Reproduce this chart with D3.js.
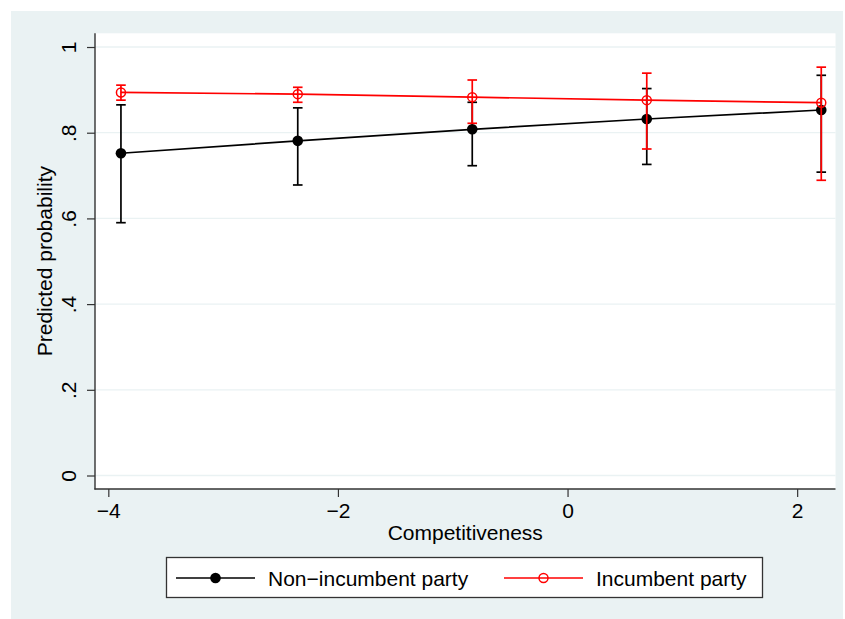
<!DOCTYPE html>
<html lang="en">
<head>
  <meta charset="UTF-8">
  <title>Predicted probability by competitiveness</title>
  <script src="https://cdn.jsdelivr.net/npm/d3@7"></script>
  <style>
    body { margin: 0; background: #ffffff; }
    text { font-family: "Liberation Sans", Arial, sans-serif; fill: #000; }
  </style>
</head>
<body>
  <script>

  // Data
  var xVals     = [-3.89, -2.35, -0.83, 0.69, 2.21];
  var nonInc    = [0.752, 0.781, 0.808, 0.832, 0.853];
  var nonIncLo  = [0.590, 0.678, 0.723, 0.726, 0.708];
  var nonIncHi  = [0.865, 0.858, 0.871, 0.903, 0.934];
  var inc       = [0.894, 0.890, 0.883, 0.876, 0.870];
  var incLo     = [0.876, 0.871, 0.822, 0.762, 0.689];
  var incHi     = [0.911, 0.906, 0.923, 0.939, 0.953];

  var xTicks = [-4, -2, 0, 2];
  var yTicks = [0, 0.2, 0.4, 0.6, 0.8, 1];
  var yTickLabels = ["0", ".2", ".4", ".6", ".8", "1"];
  var seriesNames = ["Non\u2212incumbent party", "Incumbent party"];

  //Width and height
  var w = 845;
  var h = 619;
  var fontSize = 21;

  // plot region
  var pLeft = 95, pRight = 835.5, pTop = 33.3, pBottom = 489;

  var svg = d3.select("body")
    .append("svg")
    .attr("width", w)
    .attr("height", h);

  // outer background (Stata s2color)
  svg.append("rect")
    .attr("x", 11).attr("y", 11)
    .attr("width", 832).attr("height", h - 11)
    .attr("fill", "#eaf2f3");

  svg.append("rect")
    .attr("x", pLeft).attr("y", pTop)
    .attr("width", pRight - pLeft).attr("height", pBottom - pTop)
    .attr("fill", "#ffffff");

  var xScale = d3.scaleLinear()
    .domain([-4.116, 2.334])
    .range([pLeft, pRight]);

  var yScale = d3.scaleLinear()
    .domain([-0.0315, 1.032])
    .range([pBottom, pTop]);

  // gridlines
  svg.append("g")
    .selectAll("line")
    .data(yTicks)
    .enter()
    .append("line")
    .attr("x1", pLeft)
    .attr("x2", pRight)
    .attr("y1", function(d) { return yScale(d); })
    .attr("y2", function(d) { return yScale(d); })
    .attr("stroke", "#eaf2f3")
    .attr("stroke-width", 1.3);

  // Y axis
  var yAxis = d3.axisLeft(yScale)
    .tickValues(yTicks)
    .tickSize(8)
    .tickFormat(function(d, i) { return yTickLabels[i]; });

  var gy = svg.append("g")
    .attr("transform", "translate(" + pLeft + ",0)")
    .call(yAxis);
  gy.select(".domain").remove();
  gy.selectAll(".tick line").attr("stroke", "#333").attr("stroke-width", 1.2);
  gy.selectAll(".tick text")
    .attr("transform", "rotate(-90)")
    .attr("x", 0)
    .attr("y", -19)
    .attr("dy", 0)
    .style("text-anchor", "middle")
    .style("font-size", fontSize + "px")
    .style("font-family", "Liberation Sans, Arial, sans-serif");

  // X axis
  var xAxis = d3.axisBottom(xScale)
    .tickValues(xTicks)
    .tickSize(8)
    .tickFormat(d3.format("d"));

  var gx = svg.append("g")
    .attr("transform", "translate(0," + pBottom + ")")
    .call(xAxis);
  gx.select(".domain").remove();
  gx.selectAll(".tick line").attr("stroke", "#333").attr("stroke-width", 1.2);
  gx.selectAll(".tick text")
    .attr("y", 28.7)
    .attr("dy", 0)
    .style("font-size", fontSize + "px")
    .style("font-family", "Liberation Sans, Arial, sans-serif");

  // axis lines
  svg.append("line")
    .attr("x1", pLeft).attr("x2", pLeft)
    .attr("y1", pTop).attr("y2", pBottom + 0.6)
    .attr("stroke", "#333").attr("stroke-width", 1.4);
  svg.append("line")
    .attr("x1", pLeft - 0.6).attr("x2", pRight)
    .attr("y1", pBottom).attr("y2", pBottom)
    .attr("stroke", "#333").attr("stroke-width", 1.4);

  // axis titles
  svg.append("text")
    .attr("x", (pLeft + pRight) / 2)
    .attr("y", 540)
    .style("text-anchor", "middle")
    .style("font-size", fontSize + "px")
    .text("Competitiveness");

  svg.append("text")
    .attr("transform", "translate(52," + ((pTop + pBottom) / 2) + ") rotate(-90)")
    .style("text-anchor", "middle")
    .style("font-size", fontSize + "px")
    .text("Predicted probability");

  // series
  function drawSeries(vals, lo, hi, color, hollow) {
    var g = svg.append("g");
    var idx = d3.range(xVals.length);
    var capW = 4.8;

    // error bars
    g.selectAll(".ci")
      .data(idx)
      .enter()
      .append("line")
      .attr("x1", function(i) { return xScale(xVals[i]); })
      .attr("x2", function(i) { return xScale(xVals[i]); })
      .attr("y1", function(i) { return yScale(lo[i]); })
      .attr("y2", function(i) { return yScale(hi[i]); })
      .attr("stroke", color)
      .attr("stroke-width", 1.7);

    [lo, hi].forEach(function(arr) {
      g.selectAll(null)
        .data(idx)
        .enter()
        .append("line")
        .attr("x1", function(i) { return xScale(xVals[i]) - capW; })
        .attr("x2", function(i) { return xScale(xVals[i]) + capW; })
        .attr("y1", function(i) { return yScale(arr[i]); })
        .attr("y2", function(i) { return yScale(arr[i]); })
        .attr("stroke", color)
        .attr("stroke-width", 1.7);
    });

    // connecting line
    var line = d3.line()
      .x(function(i) { return xScale(xVals[i]); })
      .y(function(i) { return yScale(vals[i]); });

    g.append("path")
      .datum(idx)
      .attr("d", line)
      .attr("fill", "none")
      .attr("stroke", color)
      .attr("stroke-width", 1.7);

    // markers
    g.selectAll("circle")
      .data(idx)
      .enter()
      .append("circle")
      .attr("cx", function(i) { return xScale(xVals[i]); })
      .attr("cy", function(i) { return yScale(vals[i]); })
      .attr("r", hollow ? 4.5 : 5.3)
      .attr("fill", hollow ? "none" : color)
      .attr("stroke", color)
      .attr("stroke-width", hollow ? 1.5 : 0);
  }

  drawSeries(nonInc, nonIncLo, nonIncHi, "#000000", false);
  drawSeries(inc, incLo, incHi, "#ff0000", true);

  // legend
  var legend = svg.append("g");
  legend.append("rect")
    .attr("x", 166.5).attr("y", 557.5)
    .attr("width", 596).attr("height", 40)
    .attr("fill", "#ffffff")
    .attr("stroke", "#333")
    .attr("stroke-width", 1.3);

  var legendItems = [
    { name: seriesNames[0], color: "#000000", hollow: false, x0: 176, x1: 255, tx: 268 },
    { name: seriesNames[1], color: "#ff0000", hollow: true, x0: 504, x1: 583, tx: 596 }
  ];

  legendItems.forEach(function(d) {
    legend.append("line")
      .attr("x1", d.x0).attr("x2", d.x1)
      .attr("y1", 578).attr("y2", 578)
      .attr("stroke", d.color)
      .attr("stroke-width", 1.7);
    legend.append("circle")
      .attr("cx", (d.x0 + d.x1) / 2)
      .attr("cy", 578)
      .attr("r", d.hollow ? 4.5 : 5.3)
      .attr("fill", d.hollow ? "none" : d.color)
      .attr("stroke", d.color)
      .attr("stroke-width", d.hollow ? 1.5 : 0);
    legend.append("text")
      .attr("x", d.tx)
      .attr("y", 586)
      .style("font-size", fontSize + "px")
      .text(d.name);
  });

  </script>
</body>
</html>
